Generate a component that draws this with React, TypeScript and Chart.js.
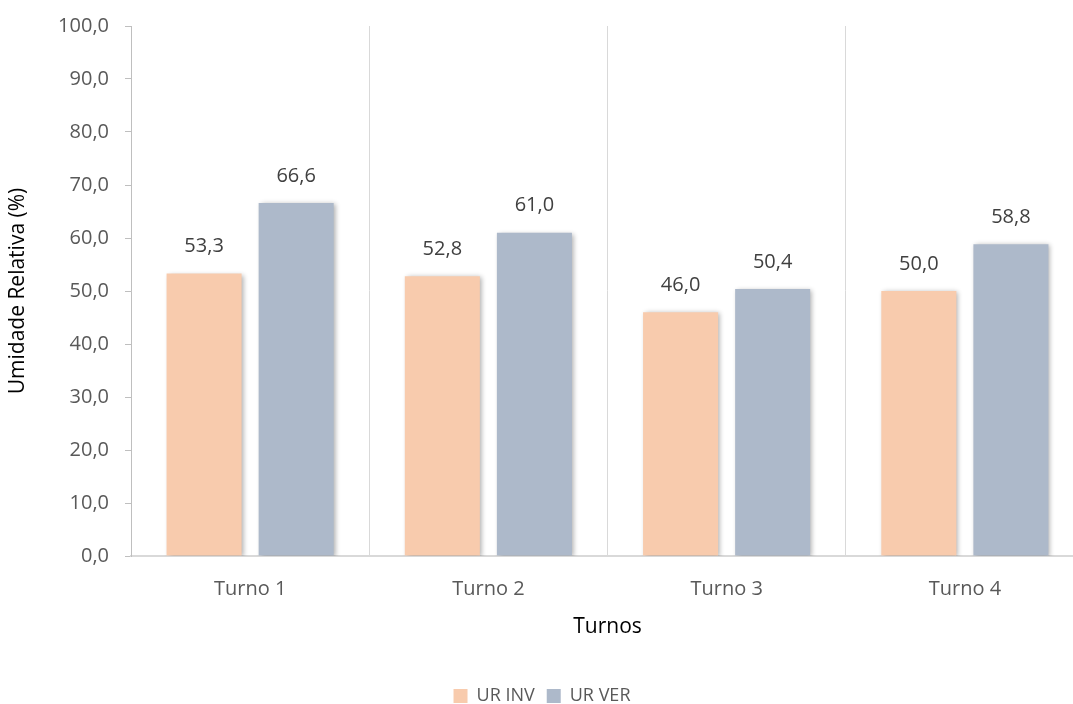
import React, { useEffect, useRef } from "react";
import { Chart, registerables } from "chart.js";

Chart.register(...registerables);

const categories = ["Turno 1", "Turno 2", "Turno 3", "Turno 4"];
const urInv = [53.3, 52.8, 46.0, 50.0];
const urVer = [66.6, 61.0, 50.4, 58.8];
const seriesNames = ["UR INV", "UR VER"];
const yTitle = "Umidade Relativa (%)";
const xTitle = "Turnos";

const FONT = "'Open Sans', sans-serif";
const fmt = (v: number) => v.toFixed(1).replace(".", ",");

const shadowPlugin = {
  id: "barShadow",
  beforeDatasetDraw(chart: any) {
    const ctx = chart.ctx;
    ctx.save();
    ctx.shadowColor = "rgba(0,0,0,0.32)";
    ctx.shadowBlur = 5;
    ctx.shadowOffsetX = 2;
    ctx.shadowOffsetY = 1;
  },
  afterDatasetDraw(chart: any) {
    chart.ctx.restore();
  },
};

const labelPlugin = {
  id: "valueLabels",
  afterDatasetsDraw(chart: any) {
    const ctx = chart.ctx;
    ctx.save();
    ctx.font = `20px ${FONT}`;
    ctx.fillStyle = "#404040";
    ctx.textAlign = "center";
    ctx.textBaseline = "middle";
    chart.data.datasets.forEach((ds: any, di: number) => {
      const meta = chart.getDatasetMeta(di);
      meta.data.forEach((bar: any, i: number) => {
        ctx.fillText(fmt(ds.data[i]), bar.x, bar.y - 27);
      });
    });
    ctx.restore();
  },
};

export default function App() {
  const ref = useRef<HTMLCanvasElement>(null);
  useEffect(() => {
    if (!ref.current) return;
    const chart = new Chart(ref.current, {
      type: "bar",
      data: {
        labels: categories,
        datasets: [
          { label: seriesNames[0], data: urInv, backgroundColor: "#F8CBAD", categoryPercentage: 0.773, barPercentage: 0.815 },
          { label: seriesNames[1], data: urVer, backgroundColor: "#ADB9CA", categoryPercentage: 0.773, barPercentage: 0.815 },
        ],
      },
      options: {
        responsive: false,
        animation: false,
        layout: { padding: { top: 10, right: 16, left: 0, bottom: 0 } },
        plugins: {
          legend: {
            position: "bottom",
            labels: { font: { family: FONT, size: 18 }, color: "#595959", boxWidth: 14, boxHeight: 14, padding: 12 },
          },
          tooltip: { enabled: false },
        },
        scales: {
          x: {
            grid: { display: true, offset: true, color: "#d9d9d9", lineWidth: 1, drawTicks: false },
            border: { color: "#d9d9d9", width: 2 },
            ticks: { font: { family: FONT, size: 20 }, color: "#595959", padding: 21 },
            title: { display: true, text: xTitle, font: { family: FONT, size: 21 }, color: "#000", padding: { top: 16, bottom: 35 } },
            afterFit: (s: any) => { s.height = 119; },
          },
          y: {
            min: 0,
            max: 100,
            ticks: { stepSize: 10, font: { family: FONT, size: 20, lineHeight: 1 }, color: "#595959", padding: 16, callback: (v: any) => fmt(Number(v)) },
            grid: { display: true, drawOnChartArea: false, drawTicks: true, tickLength: 6, color: "#bfbfbf" },
            border: { color: "#bfbfbf", width: 1 },
            title: { display: true, text: yTitle, font: { family: FONT, size: 21 }, color: "#000", padding: { top: 5, bottom: 0 } },
            afterFit: (s: any) => { s.width = 131; },
          },
        },
      },
      plugins: [shadowPlugin, labelPlugin],
    });
    return () => chart.destroy();
  }, []);
  return (
    <div style={{ position: "fixed", left: 0, top: 0, width: 1073, height: 704, overflow: "hidden", background: "#fff" }}>
      <canvas ref={ref} width={1100} height={715} style={{ display: "block", width: 1100, height: 715 }} />
    </div>
  );
}
